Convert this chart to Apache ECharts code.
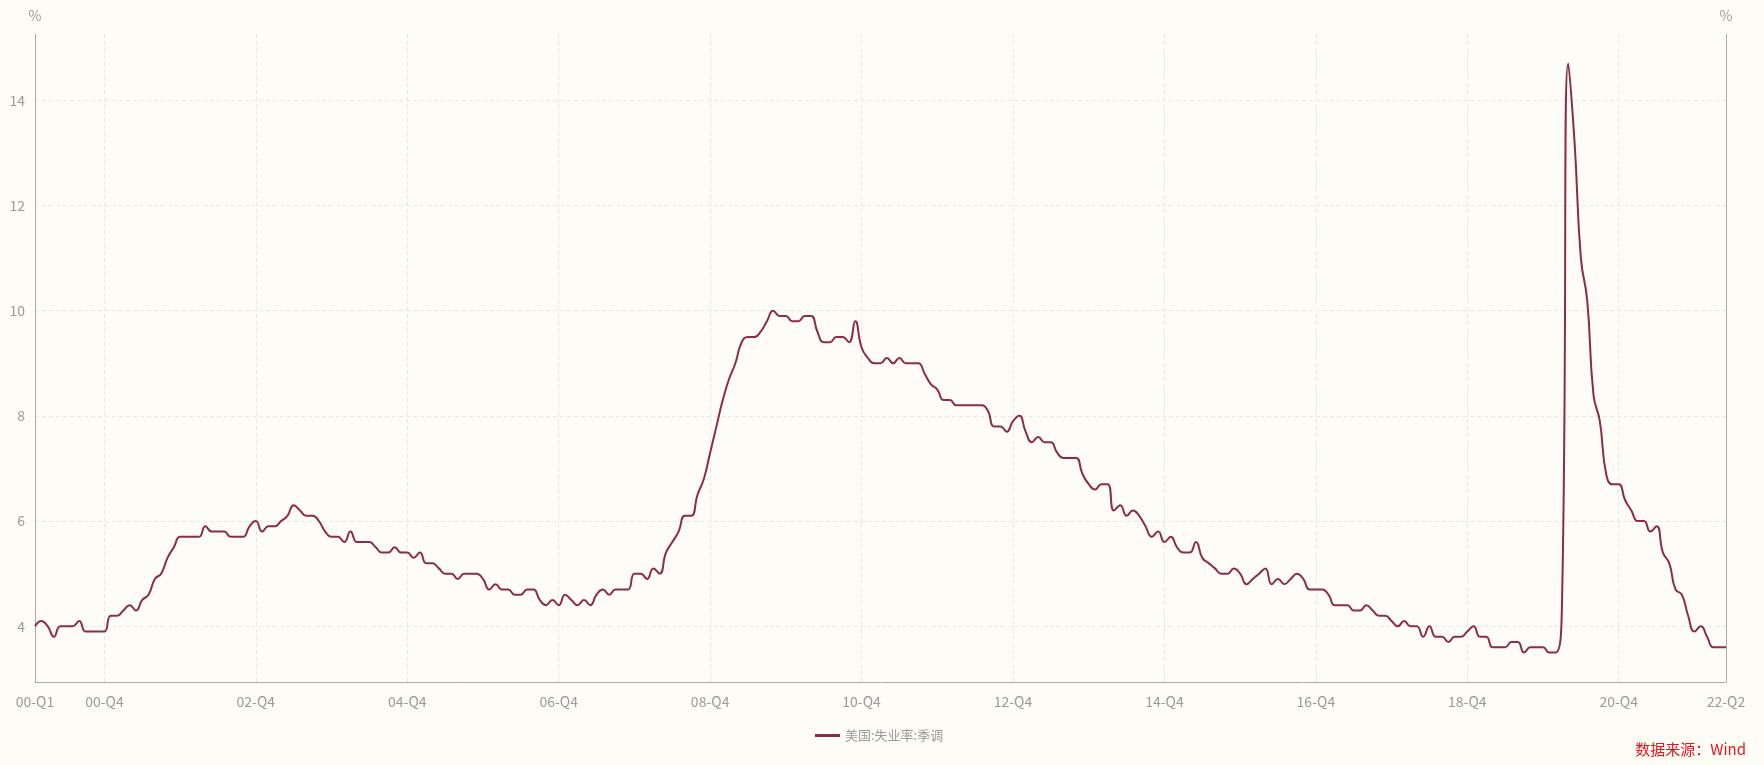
<!DOCTYPE html>
<html>
<head>
<meta charset="utf-8">
<script src="https://cdn.jsdelivr.net/npm/echarts@6/dist/echarts.min.js"></script>
<style>
  html, body { margin: 0; padding: 0; background: #fdfcf5; }
  #chart { width: 1764px; height: 765px; }
</style>
</head>
<body>
<div id="chart"></div>
<script>
// ---- Data (US unemployment rate, seasonally adjusted, monthly, %) ----
var startYear = 2000;
var seriesName = '美国:失业率:季调';
var sourceText = '数据来源：Wind';
var unit = '%';

var u2000 = [4.0, 4.1, 4.0, 3.8, 4.0, 4.0, 4.0, 4.1, 3.9, 3.9, 3.9, 3.9];
var u2001 = [4.2, 4.2, 4.3, 4.4, 4.3, 4.5, 4.6, 4.9, 5.0, 5.3, 5.5, 5.7];
var u2002 = [5.7, 5.7, 5.7, 5.9, 5.8, 5.8, 5.8, 5.7, 5.7, 5.7, 5.9, 6.0];
var u2003 = [5.8, 5.9, 5.9, 6.0, 6.1, 6.3, 6.2, 6.1, 6.1, 6.0, 5.8, 5.7];
var u2004 = [5.7, 5.6, 5.8, 5.6, 5.6, 5.6, 5.5, 5.4, 5.4, 5.5, 5.4, 5.4];
var u2005 = [5.3, 5.4, 5.2, 5.2, 5.1, 5.0, 5.0, 4.9, 5.0, 5.0, 5.0, 4.9];
var u2006 = [4.7, 4.8, 4.7, 4.7, 4.6, 4.6, 4.7, 4.7, 4.5, 4.4, 4.5, 4.4];
var u2007 = [4.6, 4.5, 4.4, 4.5, 4.4, 4.6, 4.7, 4.6, 4.7, 4.7, 4.7, 5.0];
var u2008 = [5.0, 4.9, 5.1, 5.0, 5.4, 5.6, 5.8, 6.1, 6.1, 6.5, 6.8, 7.3];
var u2009 = [7.8, 8.3, 8.7, 9.0, 9.4, 9.5, 9.5, 9.6, 9.8, 10.0, 9.9, 9.9];
var u2010 = [9.8, 9.8, 9.9, 9.9, 9.6, 9.4, 9.4, 9.5, 9.5, 9.4, 9.8, 9.3];
var u2011 = [9.1, 9.0, 9.0, 9.1, 9.0, 9.1, 9.0, 9.0, 9.0, 8.8, 8.6, 8.5];
var u2012 = [8.3, 8.3, 8.2, 8.2, 8.2, 8.2, 8.2, 8.1, 7.8, 7.8, 7.7, 7.9];
var u2013 = [8.0, 7.7, 7.5, 7.6, 7.5, 7.5, 7.3, 7.2, 7.2, 7.2, 6.9, 6.7];
var u2014 = [6.6, 6.7, 6.7, 6.2, 6.3, 6.1, 6.2, 6.1, 5.9, 5.7, 5.8, 5.6];
var u2015 = [5.7, 5.5, 5.4, 5.4, 5.6, 5.3, 5.2, 5.1, 5.0, 5.0, 5.1, 5.0];
var u2016 = [4.8, 4.9, 5.0, 5.1, 4.8, 4.9, 4.8, 4.9, 5.0, 4.9, 4.7, 4.7];
var u2017 = [4.7, 4.6, 4.4, 4.4, 4.4, 4.3, 4.3, 4.4, 4.3, 4.2, 4.2, 4.1];
var u2018 = [4.0, 4.1, 4.0, 4.0, 3.8, 4.0, 3.8, 3.8, 3.7, 3.8, 3.8, 3.9];
var u2019 = [4.0, 3.8, 3.8, 3.6, 3.6, 3.6, 3.7, 3.7, 3.5, 3.6, 3.6, 3.6];
var u2020 = [3.5, 3.5, 4.4, 14.7, 13.2, 11.0, 10.2, 8.4, 7.9, 6.9, 6.7, 6.7];
var u2021 = [6.4, 6.2, 6.0, 6.0, 5.8, 5.9, 5.4, 5.2, 4.7, 4.6, 4.2, 3.9];
var u2022 = [4.0, 3.8, 3.6, 3.6, 3.6];

// Months shown as x-axis tick labels (first, every other December, last)
var tickMonths = ['2000-01', '2000-12', '2002-12', '2004-12', '2006-12', '2008-12',
  '2010-12', '2012-12', '2014-12', '2016-12', '2018-12', '2020-12', '2022-05'];

var yearly = [u2000, u2001, u2002, u2003, u2004, u2005, u2006, u2007, u2008, u2009, u2010,
  u2011, u2012, u2013, u2014, u2015, u2016, u2017, u2018, u2019, u2020, u2021, u2022];

// ---- Build category list and value list from the arrays ----
var months = [];
var values = [];
yearly.forEach(function (arr, yi) {
  arr.forEach(function (v, mi) {
    var m = mi + 1;
    months.push((startYear + yi) + '-' + (m < 10 ? '0' + m : '' + m));
    values.push(v);
  });
});

function quarterLabel(ym) {
  var y = ym.slice(2, 4);
  var m = parseInt(ym.slice(5, 7), 10);
  return y + '-Q' + Math.ceil(m / 3);
}
var lastIndex = months.length - 1;
function isTick(index) {
  return tickMonths.indexOf(months[index]) !== -1;
}
function isInnerTick(index) {
  return index !== 0 && index !== lastIndex && isTick(index);
}

var FONT = '"Microsoft YaHei", "Noto Sans CJK SC", "Noto Sans", sans-serif';
var AXIS_COLOR = '#aaaaaa';
var LABEL_COLOR = '#9a9a9a';
var GRID_COLOR = '#e6e6e4';

function padMin(e) { return e.min - (e.max - e.min) * 0.05; }
function padMax(e) { return e.max + (e.max - e.min) * 0.05; }

function yAxisDef(pos, showSplit) {
  return {
    type: 'value',
    position: pos,
    min: padMin,
    max: padMax,
    name: unit,
    nameLocation: 'end',
    nameGap: 11,
    nameTextStyle: { color: LABEL_COLOR, fontSize: 14, fontFamily: FONT },
    axisLine: { show: true, lineStyle: { color: AXIS_COLOR, width: 1 } },
    axisTick: { show: false },
    axisLabel: {
      color: LABEL_COLOR, fontSize: 14, fontFamily: FONT, margin: 10,
      showMinLabel: false, showMaxLabel: false
    },
    splitLine: {
      show: showSplit,
      showMinLine: false,
      showMaxLine: false,
      lineStyle: { color: GRID_COLOR, type: [4, 3], width: 1 }
    }
  };
}

var chart = echarts.init(document.getElementById('chart'), null, { renderer: 'canvas' });
chart.setOption({
  backgroundColor: '#fdfcf5',
  animation: false,
  textStyle: { fontFamily: FONT },
  title: {
    text: sourceText,
    right: 13,
    bottom: 3,
    textStyle: { color: '#e5161b', fontSize: 15, fontWeight: 'normal', fontFamily: FONT }
  },
  legend: {
    data: [seriesName],
    left: 810,
    top: 724,
    icon: 'rect',
    itemWidth: 25,
    itemHeight: 3,
    itemGap: 10,
    textStyle: { color: LABEL_COLOR, fontSize: 13, fontFamily: FONT }
  },
  grid: { left: 35, right: 38, top: 34, bottom: 83, containLabel: false },
  xAxis: {
    type: 'category',
    data: months,
    boundaryGap: false,
    axisLine: { show: true, lineStyle: { color: AXIS_COLOR, width: 1 } },
    axisTick: { show: false },
    axisLabel: {
      interval: function (index) { return isTick(index); },
      formatter: function (v) { return quarterLabel(v); },
      color: LABEL_COLOR, fontSize: 14, fontFamily: FONT, margin: 13
    },
    splitLine: {
      show: true,
      interval: function (index) { return isInnerTick(index); },
      lineStyle: { color: GRID_COLOR, type: [4, 3], width: 1 }
    }
  },
  yAxis: [yAxisDef('left', true), yAxisDef('right', false)],
  series: [{
    name: seriesName,
    type: 'line',
    data: values,
    yAxisIndex: 0,
    smooth: true,
    symbol: 'none',
    showSymbol: false,
    lineStyle: { color: '#8c2c48', width: 2 },
    itemStyle: { color: '#8c2c48' }
  }]
});
</script>
</body>
</html>
